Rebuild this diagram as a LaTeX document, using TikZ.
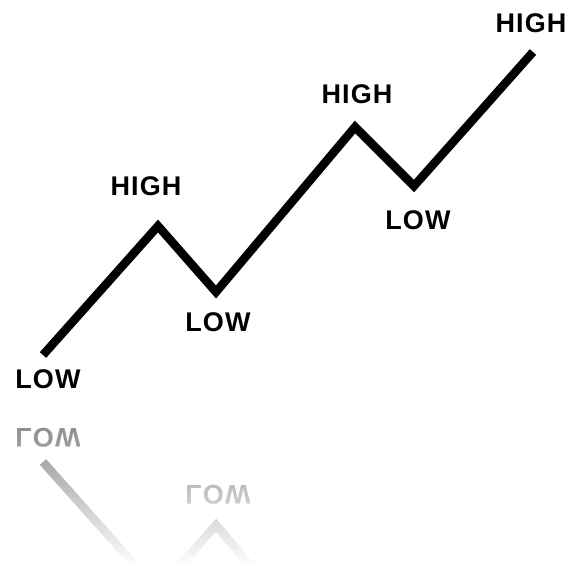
\documentclass[tikz,border=0pt]{standalone}
\usepackage{fontspec}
\setmainfont{Liberation Sans}
\newfontfamily\lblfont[LetterSpace=4]{Liberation Sans}
\usetikzlibrary{fadings}
\tikzfading[name=reflfade, top color=transparent!50, bottom color=transparent!0]
\begin{document}
\begin{tikzpicture}[x=1pt,y=-1pt,
  zig/.style={line width=8.5pt, line join=miter, line cap=butt},
  lbl/.style={font=\lblfont\fontsize{27}{30}\selectfont\bfseries, inner sep=0pt}]
\useasboundingbox (0,0) rectangle (573,577);
% main zigzag
\coordinate (p1) at (43,355);
\coordinate (p2) at (158,226);
\coordinate (p3) at (216,292);
\coordinate (p4) at (355,127);
\coordinate (p5) at (414,186);
\coordinate (p6) at (533,52);
\draw[zig] (p1) -- (p2) -- (p3) -- (p4) -- (p5) -- (p6);
\node[lbl] (l1) at (48,379) {LOW};
\node[lbl] (h2) at (146,186) {HIGH};
\node[lbl] (l3) at (218,322) {LOW};
\node[lbl] (h4) at (357,94) {HIGH};
\node[lbl] (l5) at (418,220) {LOW};
\node[lbl] (h6) at (531,23) {HIGH};
% reflection
\begin{scope}[yshift=-817pt, yscale=-1]
\coordinate (q1) at (43,355);
\coordinate (q2) at (158,226);
\coordinate (q3) at (216,292);
\coordinate (q4) at (355,127);
\draw[zig] (q1) -- (q2) -- (q3) -- (q4);
\node[lbl, transform shape] (rl1) at (48,379) {LOW};
\node[lbl, transform shape] (rl3) at (218,322) {LOW};
\end{scope}
\fill[white, path fading=reflfade] (0,409) rectangle (573,566);
\fill[white] (0,565) rectangle (573,577);
\end{tikzpicture}
\end{document}
